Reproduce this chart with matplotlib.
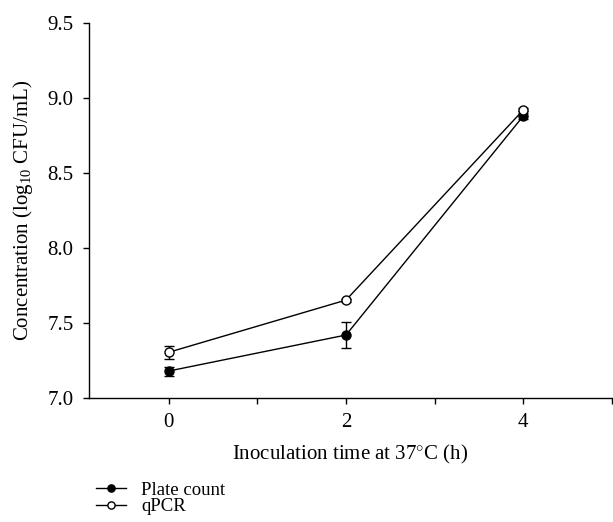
import matplotlib
matplotlib.use("Agg")
import matplotlib.pyplot as plt

# Values
time_h = [0, 2, 4]
plate_count = [7.18, 7.42, 8.88]
plate_count_err = [0.03, 0.085, 0.02]
qpcr = [7.305, 7.653, 8.92]
qpcr_err = [0.045, 0.01, 0.01]

x_ticks = [0, 1, 2, 3, 4, 5]
x_tick_labels = ["0", "", "2", "", "4", ""]
y_ticks = [7.0, 7.5, 8.0, 8.5, 9.0, 9.5]

plt.rcParams["font.family"] = ["Liberation Serif", "DejaVu Serif"]
plt.rcParams["mathtext.fontset"] = "custom"
plt.rcParams["mathtext.rm"] = "Liberation Serif"
plt.rcParams["mathtext.it"] = "Liberation Serif:italic"

fig = plt.figure(figsize=(6.13, 5.22), dpi=100)
ax = fig.add_axes([0.1452, 0.2375, 0.853, 0.7185])

ax.errorbar(time_h, plate_count, yerr=plate_count_err, color="black", lw=1.0,
            marker="o", markersize=6.5, markerfacecolor="black", markeredgecolor="black",
            capsize=3.5, elinewidth=1.0, capthick=1.0, label="Plate count")
ax.errorbar(time_h, qpcr, yerr=qpcr_err, color="black", lw=1.0,
            marker="o", markersize=6.5, markerfacecolor="white", markeredgecolor="black",
            capsize=3.5, elinewidth=1.0, capthick=1.0, label="qPCR")

ax.set_xlim(-0.9, 5.0)
ax.set_ylim(7.0, 9.5)
ax.set_xticks(x_ticks)
ax.set_xticklabels(x_tick_labels)
ax.set_yticks(y_ticks)
ax.set_yticklabels([f"{v:.1f}" for v in y_ticks])
ax.tick_params(direction="out", length=4, width=1, labelsize=15, pad=7)

ax.spines["top"].set_visible(False)
ax.spines["right"].set_visible(False)
ax.spines["left"].set_linewidth(1.0)
ax.spines["bottom"].set_linewidth(1.0)

ax.set_xlabel("Inoculation time at 37$^{\\circ}$C (h)", fontsize=15, labelpad=8)
ax.set_ylabel("Concentration (log$_{10}$ CFU/mL)", fontsize=15, labelpad=9)

handles, labels = ax.get_legend_handles_labels()
handles = [h[0] for h in handles]
fig.legend(handles, labels, loc="lower left", bbox_to_anchor=(0.135, -0.012),
           frameon=False, fontsize=13.5, handlelength=1.6, handletextpad=0.8,
           labelspacing=-0.05, borderpad=0.2, markerscale=0.8)

fig.savefig("out.png", dpi=100)
